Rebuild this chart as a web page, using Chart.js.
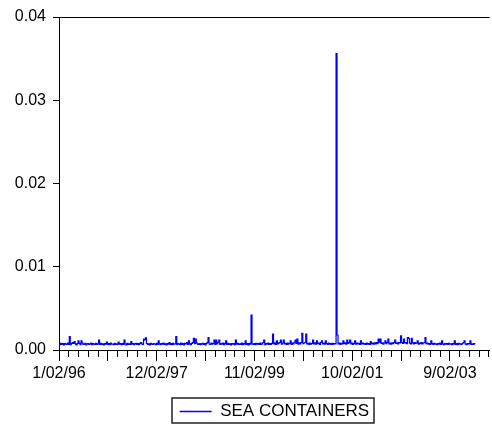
<!DOCTYPE html>
<html>
<head>
<meta charset="utf-8">
<script src="https://cdn.jsdelivr.net/npm/chart.js@4/dist/chart.umd.min.js"></script>
<style>
  html, body { margin: 0; padding: 0; background: #ffffff; }
  #c { display: block; }
</style>
</head>
<body>
<canvas id="c" width="492" height="428"></canvas>
<script>
// Daily series, stored as one value for every 5 observations
const seriesName = 'SEA CONTAINERS';
const obsStep = 5;
const lastObs = 2204;

// Date labels and the observation number each belongs to
const dateLabels = ['1/02/96', '12/02/97', '11/02/99', '10/02/01', '9/02/03'];
const labelObs = [0, 500, 1000, 1500, 2000];

// Y axis ticks
const yTicks = [0, 0.01, 0.02, 0.03, 0.04];

const seaContainers = [
  0.00072, 0.00064, 0.0008, 0.00068, 0.00076, 0.00062, 0.00078, 0.0007, 0.00066, 0.00082,
  0.00068, 0.0016, 0.00064, 0.00078, 0.0009, 0.0008, 0.001, 0.00072, 0.00062, 0.00076,
  0.0011, 0.00078, 0.00064, 0.0011, 0.00082, 0.00066, 0.0007, 0.0008, 0.00062, 0.00074,
  0.00078, 0.00066, 0.00072, 0.00084, 0.00064, 0.00076, 0.0007, 0.00068, 0.0008, 0.00066,
  0.00074, 0.0012, 0.00066, 0.0008, 0.00068, 0.00074, 0.00062, 0.00078, 0.0007, 0.00096,
  0.00066, 0.00076, 0.00064, 0.00082, 0.0007, 0.00072, 0.00064, 0.0008, 0.00068, 0.00074,
  0.00066, 0.00096, 0.0007, 0.00078, 0.00064, 0.00076, 0.00068, 0.0012, 0.00072, 0.00062,
  0.0008, 0.00068, 0.00074, 0.00066, 0.001, 0.0007, 0.00078, 0.00064, 0.00074, 0.0008,
  0.00068, 0.00076, 0.00064, 0.0008, 0.0009, 0.00072, 0.00066, 0.0013, 0.0012, 0.00145,
  0.00078, 0.00068, 0.00074, 0.00062, 0.0008, 0.0007, 0.00066, 0.00078, 0.00072, 0.00064,
  0.0008, 0.00068, 0.0011, 0.00074, 0.00064, 0.00078, 0.0007, 0.00082, 0.00066, 0.00074,
  0.00062, 0.00078, 0.0007, 0.0009, 0.00068, 0.00076, 0.00064, 0.0008, 0.0007, 0.00072,
  0.0016, 0.00066, 0.00078, 0.0007, 0.00064, 0.00082, 0.00068, 0.00076, 0.00062, 0.0008,
  0.00072, 0.0009, 0.00068, 0.0011, 0.00074, 0.00064, 0.0008, 0.0009, 0.0014, 0.00076,
  0.0013, 0.00082, 0.0007, 0.00066, 0.00078, 0.00064, 0.00074, 0.0008, 0.00068, 0.00076,
  0.00062, 0.0008, 0.0009, 0.0015, 0.00072, 0.00066, 0.00082, 0.0007, 0.00078, 0.0012,
  0.00068, 0.0012, 0.00074, 0.0009, 0.0012, 0.00066, 0.00078, 0.0007, 0.00082, 0.00064,
  0.00076, 0.0011, 0.00068, 0.0008, 0.00066, 0.00074, 0.00062, 0.00078, 0.0007, 0.00076,
  0.00064, 0.0012, 0.0007, 0.0008, 0.00066, 0.00074, 0.00068, 0.00082, 0.00064, 0.00076,
  0.0007, 0.0011, 0.00066, 0.00078, 0.00062, 0.0008, 0.0007, 0.0042, 0.00072, 0.00066,
  0.00078, 0.00064, 0.0008, 0.0007, 0.00076, 0.00066, 0.00082, 0.00068, 0.00074, 0.0009,
  0.0012, 0.00064, 0.00078, 0.0007, 0.00084, 0.00068, 0.00076, 0.00066, 0.0008, 0.0019,
  0.00072, 0.00086, 0.00068, 0.0011, 0.00074, 0.00082, 0.0009, 0.0012, 0.0007, 0.00084,
  0.0012, 0.00072, 0.0008, 0.00066, 0.00084, 0.0007, 0.00078, 0.0011, 0.00068, 0.00082,
  0.00074, 0.0009, 0.0012, 0.00078, 0.0013, 0.0007, 0.00086, 0.00072, 0.0009, 0.002,
  0.00076, 0.00084, 0.0009, 0.0019, 0.00072, 0.0008, 0.00068, 0.00084, 0.0007, 0.00078,
  0.0012, 0.00074, 0.00086, 0.0007, 0.0011, 0.00076, 0.00082, 0.00068, 0.0009, 0.0011,
  0.00072, 0.00084, 0.0007, 0.0011, 0.00078, 0.00066, 0.00082, 0.0007, 0.00076, 0.00068,
  0.0008, 0.0007, 0.00078, 0.00072, 0.0356, 0.0018, 0.00074, 0.00084, 0.00068, 0.0008,
  0.00072, 0.0011, 0.00076, 0.00086, 0.0007, 0.0012, 0.00078, 0.0009, 0.0012, 0.00072,
  0.00082, 0.00068, 0.00078, 0.0011, 0.0007, 0.00084, 0.00072, 0.0008, 0.00066, 0.0011,
  0.00074, 0.00082, 0.0007, 0.00078, 0.00066, 0.00084, 0.0007, 0.00076, 0.00068, 0.001,
  0.00074, 0.00082, 0.0007, 0.00086, 0.00072, 0.0009, 0.00076, 0.0013, 0.0009, 0.0013,
  0.00078, 0.00086, 0.0007, 0.00084, 0.0011, 0.00076, 0.0009, 0.0013, 0.00074, 0.00084,
  0.0007, 0.00086, 0.00076, 0.0009, 0.0012, 0.00078, 0.00086, 0.00072, 0.0009, 0.00084,
  0.0017, 0.0009, 0.00078, 0.0013, 0.00084, 0.0009, 0.00076, 0.0015, 0.0014, 0.00082,
  0.00074, 0.0014, 0.00086, 0.00072, 0.0009, 0.00078, 0.00084, 0.0011, 0.0007, 0.00082,
  0.00076, 0.0009, 0.00072, 0.00084, 0.0009, 0.0015, 0.00076, 0.00082, 0.0007, 0.00078,
  0.00068, 0.0011, 0.00076, 0.00066, 0.0008, 0.0007, 0.00074, 0.00064, 0.00078, 0.0007,
  0.00082, 0.00068, 0.0011, 0.00072, 0.00064, 0.00078, 0.0007, 0.00076, 0.00066, 0.0008,
  0.0007, 0.00074, 0.00064, 0.00078, 0.0007, 0.0011, 0.00068, 0.00076, 0.00064, 0.0008,
  0.0007, 0.00074, 0.00066, 0.00078, 0.0009, 0.0011, 0.00072, 0.00064, 0.00078, 0.0007,
  0.00076, 0.0011, 0.00068, 0.00074, 0.00066, 0.00078, 0.00072
];

const FONT = 'Liberation Sans, Arial, Helvetica, sans-serif';
const LINE_BLUE = '#0000ff';

// Outline drawn round the legend entry
const legendFrame = {
  id: 'legendFrame',
  afterDraw(chart) {
    const boxes = chart.legend && chart.legend.legendHitBoxes;
    if (!boxes || !boxes.length) return;
    const hb = boxes[0];
    const c = chart.ctx;
    c.save();
    c.strokeStyle = '#222222';
    c.lineWidth = 1.5;
    c.strokeRect(Math.round(hb.left - 8), Math.round(hb.top - 5),
                 Math.round(hb.width + 13), Math.round(hb.height + 8));
    c.restore();
  }
};

const points = seaContainers.map((v, i) => ({ x: i * obsStep, y: v }));

new Chart(document.getElementById('c'), {
  type: 'line',
  data: {
    datasets: [{
      label: seriesName,
      data: points,
      borderColor: LINE_BLUE,
      backgroundColor: LINE_BLUE,
      borderWidth: 1.2,
      pointRadius: 0,
      stepped: 'middle',
      fill: false
    }]
  },
  options: {
    responsive: false,
    animation: false,
    devicePixelRatio: 1,
    layout: { padding: { top: 17, right: 0, bottom: -2, left: 0 } },
    plugins: {
      legend: {
        position: 'bottom',
        fullSize: false,
        labels: {
          font: { family: FONT, size: 17 },
          color: '#000000',
          usePointStyle: true,
          pointStyle: 'line',
          pointStyleWidth: 32,
          padding: 0,
          generateLabels: () => [{
            text: seriesName,
            fillStyle: LINE_BLUE,
            strokeStyle: LINE_BLUE,
            lineWidth: 1.4,
            pointStyle: 'line',
            hidden: false,
            datasetIndex: 0
          }]
        }
      },
      tooltip: { enabled: false }
    },
    scales: {
      x: {
        type: 'linear',
        min: 0,
        max: lastObs,
        border: { color: '#000000', width: 1 },
        grid: {
          drawOnChartArea: false,
          color: '#000000',
          tickColor: '#000000',
          tickLength: 11,
          // long marks every 250 observations, short ones in between
          tickBorderDash: (ctx) => (ctx.tick && ctx.tick.value % 250 === 0) ? [] : [6, 20]
        },
        ticks: {
          stepSize: 50,
          includeBounds: false,
          autoSkip: false,
          maxRotation: 0,
          minRotation: 0,
          padding: 3,
          color: '#000000',
          font: { family: FONT, size: 16 },
          callback: (v) => {
            const k = labelObs.indexOf(v);
            return k >= 0 ? dateLabels[k] : '';
          }
        },
        afterFit: (s) => { s.height = 53; }
      },
      y: {
        min: yTicks[0],
        max: yTicks[yTicks.length - 1],
        border: { color: '#000000', width: 1 },
        grid: {
          color: (ctx) => (ctx.tick && Math.abs(ctx.tick.value - yTicks[yTicks.length - 1]) < 1e-9) ? '#000000' : 'rgba(0,0,0,0)',
          tickColor: '#000000',
          tickLength: 6
        },
        afterBuildTicks: (s) => { s.ticks = yTicks.map(v => ({ value: v })); },
        ticks: {
          padding: 7,
          color: '#000000',
          font: { family: FONT, size: 16 },
          callback: (v) => Number(v).toFixed(2)
        },
        afterFit: (s) => { s.width = 59; }
      }
    }
  },
  plugins: [legendFrame]
});
</script>
</body>
</html>
